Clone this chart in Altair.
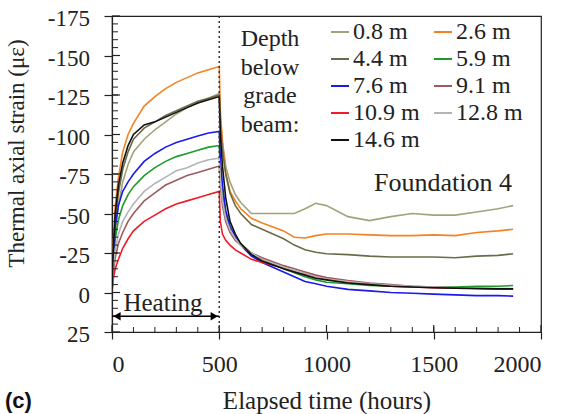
import altair as alt
import pandas as pd

# ---------------- data ----------------
T = [0, 5, 15, 30, 50, 75, 100, 150, 200, 250, 300, 350, 400, 450, 500,
     505, 515, 530, 550, 575, 600, 650, 700, 800, 850, 900, 950, 1000,
     1100, 1200, 1300, 1400, 1500, 1600, 1700, 1800, 1870]

depths = ["0.8 m", "2.6 m", "4.4 m", "5.9 m", "7.6 m", "9.1 m", "10.9 m", "12.8 m", "14.6 m"]
colors = ["#a3a37a", "#f5821f", "#6b6b4a", "#1e9a2a", "#1a1aee", "#a05a5e", "#ee1c24", "#b4b4b4", "#111111"]

s08 = [0, -18, -38, -55, -70, -81, -89, -97, -103, -108, -113, -117, -120, -123, -126,
       -110, -95, -80, -70, -62, -57, -50, -50, -50, -50, -53, -56.5, -55,
       -48, -45.5, -48, -50, -49, -49, -51, -53, -55]
s26 = [0, -28, -55, -73, -89, -100, -107, -118, -124, -129, -133, -136, -139, -141, -143,
       -115, -95, -76, -64, -58, -53, -47, -44, -39, -35, -34.5, -36, -37,
       -37, -36.5, -36, -36, -36.5, -36, -38, -39, -40]
s44 = [0, -22, -45, -63, -78, -89, -97, -104, -108, -112, -115, -118, -121, -123, -125,
       -108, -90, -75, -63, -55, -50, -43, -40, -34, -30, -27, -25.5, -24.5,
       -24, -23, -22.5, -22.5, -22.5, -22, -23, -23.5, -24.5]
s59 = [0, -18, -34, -46, -55, -62, -67, -74, -79, -83, -86, -88, -90, -92, -93,
       -78, -63, -50, -41, -35, -31, -25, -21, -15, -12.5, -10, -8, -6.5,
       -5.5, -4.5, -4, -3.8, -3.5, -3.5, -4, -4, -4.4]
s76 = [0, -22, -42, -55, -64, -70, -75, -83, -88, -92, -95, -97, -99, -101, -102,
       -85, -68, -52, -42, -35, -30, -23, -19, -13, -10, -7, -5.5, -4,
       -2, -1, 0, 0.5, 1, 1.5, 2, 2, 2.3]
s91 = [0, -12, -22, -31, -38, -45, -50, -58, -63, -68, -71, -74, -76, -78, -80,
       -68, -55, -45, -38, -33, -30, -25, -22, -17, -15, -13, -11, -9.5,
       -7.5, -6, -5, -4, -3.5, -3, -2.5, -2.3, -2.3]
s109 = [0, -8, -15, -21, -28, -34, -39, -45, -49, -53, -56, -58, -60, -62, -64,
        -45, -37, -33, -30, -27, -25, -21, -19, -15.5, -13.5, -12, -10, -8.5,
        -6.5, -5, -4, -3.5, -3, -2.8, -2.5, -2.3, -2.3]
s128 = [0, -15, -27, -37, -45, -51, -56, -64, -69, -73, -77, -79, -82, -84, -85,
        -72, -58, -47, -40, -34, -30, -25, -21, -16, -14, -12, -10, -8.5,
        -7, -5.5, -4.5, -4, -3.5, -3, -2.8, -2.5, -2.5]
s146 = [0, -25, -50, -68, -82, -93, -100, -106, -108, -111, -114, -117, -120, -122, -124,
        -100, -80, -60, -45, -37, -31, -24, -20, -15, -13, -11, -9, -8,
        -6, -5, -4, -3.5, -3, -2.8, -2.5, -2.3, -2.3]

series = [s08, s26, s44, s59, s76, s91, s109, s128, s146]

# legend is laid out column by column: this order reads row by row as in the figure
legend_order = ["0.8 m", "4.4 m", "7.6 m", "10.9 m", "14.6 m", "2.6 m", "5.9 m", "9.1 m", "12.8 m"]

y_major = [-175, -150, -125, -100, -75, -50, -25, 0, 25]
y_labels = [str(v) for v in y_major]
x_major = [0, 500, 1000, 1500, 2000]
y_minor = list(range(-170, 25, 5))
x_minor = list(range(100, 2000, 100))

rows = []
for d, vals in zip(depths, series):
    for t, v in zip(T, vals):
        rows.append({"time": t, "strain": v, "depth": d})
df = pd.DataFrame(rows)

W, H = 429, 316
FONT = "Liberation Serif"

xs = alt.Scale(domain=[0, 2000], nice=False)
ys = alt.Scale(domain=[-175, 25], reverse=True, nice=False)
color_map = dict(zip(depths, colors))

XAX = alt.Axis(values=x_major, title="Elapsed time (hours)", grid=False,
               tickSize=7, labelPadding=13, titlePadding=12, labelOverlap=False,
               labelFontSize=24, titleFontSize=25, labelExpr="'' + datum.value")
YAX = alt.Axis(values=y_major, title="Thermal axial strain (\u03bc\u03b5)", grid=False,
               tickSize=8, labels=False,
               titleFontSize=23, titleX=-84, titleY=137)

lines = alt.Chart(df).mark_line(strokeWidth=1.6, clip=True).encode(
    x=alt.X("time:Q", scale=xs, axis=XAX),
    y=alt.Y("strain:Q", scale=ys, axis=YAX),
    color=alt.Color("depth:N", sort=legend_order,
                    scale=alt.Scale(domain=legend_order, range=[color_map[d] for d in legend_order]),
                    legend=alt.Legend(title=None, orient="none", legendX=216, legendY=4,
                                      columns=2, symbolType="stroke", symbolSize=324,
                                      symbolStrokeWidth=2, labelFont=FONT, labelFontSize=24,
                                      labelColor="#222", labelOffset=1, columnPadding=10,
                                      rowPadding=3, padding=0)),
    detail="depth:N",
)

# y tick labels as text placed through the y scale
ylab = alt.Chart(pd.DataFrame({"v": y_major, "lab": y_labels})).mark_text(
    font=FONT, fontSize=23, color="#222", align="right", baseline="middle", dy=3).encode(
    y=alt.Y("v:Q", scale=ys, axis=YAX), x=alt.value(-22), text="lab:N")

# inside ticks (minor and major) drawn through the scales
ymin_df = pd.DataFrame({"v": y_minor})
xmin_df = pd.DataFrame({"v": x_minor})
ymaj_df = pd.DataFrame({"v": y_major})
xmaj_df = pd.DataFrame({"v": x_major})
ytick = alt.Chart(ymin_df).mark_rule(color="#222", strokeWidth=1).encode(
    y=alt.Y("v:Q", scale=ys, axis=YAX), x=alt.value(0), x2=alt.value(6))
xtick = alt.Chart(xmin_df).mark_rule(color="#222", strokeWidth=1).encode(
    x=alt.X("v:Q", scale=xs, axis=XAX), y=alt.value(H), y2=alt.value(H - 5))
ytickM = alt.Chart(ymaj_df).mark_rule(color="#222", strokeWidth=1.2).encode(
    y=alt.Y("v:Q", scale=ys, axis=YAX), x=alt.value(0), x2=alt.value(8))
xtickM = alt.Chart(xmaj_df).mark_rule(color="#222", strokeWidth=1.2).encode(
    x=alt.X("v:Q", scale=xs, axis=XAX), y=alt.value(H), y2=alt.value(H - 7))

dotted = alt.Chart(pd.DataFrame({"t": [500]})).mark_rule(
    color="#333", strokeWidth=1.5, strokeDash=[2, 3]).encode(
    x=alt.X("t:Q", scale=xs, axis=XAX), y=alt.value(0), y2=alt.value(H))

arrow_df = pd.DataFrame({"a": [0], "b": [500], "y": [15]})
arrow = alt.Chart(arrow_df).mark_rule(color="black", strokeWidth=1.5).encode(
    x=alt.X("a:Q", scale=xs, axis=XAX), x2="b:Q", y=alt.Y("y:Q", scale=ys, axis=YAX))
headL = alt.Chart(arrow_df).mark_point(shape="triangle-left", filled=True, color="black",
                                        size=70, xOffset=5, opacity=1).encode(
    x=alt.X("a:Q", scale=xs, axis=XAX), y=alt.Y("y:Q", scale=ys, axis=YAX))
headR = alt.Chart(arrow_df).mark_point(shape="triangle-right", filled=True, color="black",
                                        size=70, xOffset=-5, opacity=1).encode(
    x=alt.X("b:Q", scale=xs, axis=XAX), y=alt.Y("y:Q", scale=ys, axis=YAX))

heating = alt.Chart(pd.DataFrame({"t": ["Heating"]})).mark_text(
    font=FONT, fontSize=25, color="#222", align="center", baseline="middle").encode(
    text="t:N", x=alt.value(51), y=alt.value(287))

depth_txt = alt.Chart(pd.DataFrame({"t": ["Depth\nbelow\ngrade\nbeam:"]})).mark_text(
    font=FONT, fontSize=24, color="#222", align="center", baseline="top",
    lineBreak="\n", lineHeight=28.5).encode(
    text="t:N", x=alt.value(158), y=alt.value(11))

found = alt.Chart(pd.DataFrame({"t": ["Foundation 4"]})).mark_text(
    font=FONT, fontSize=26, color="#222", align="right", baseline="middle").encode(
    text="t:N", x=alt.value(400), y=alt.value(167))

clabel = alt.Chart(pd.DataFrame({"t": ["(c)"]})).mark_text(
    font="Liberation Sans", fontSize=22, fontWeight="bold", color="#111",
    align="left", baseline="middle").encode(
    text="t:N", x=alt.value(-107), y=alt.value(385))

chart = alt.layer(lines, ylab, ytick, xtick, ytickM, xtickM, dotted, arrow, headL, headR,
                  heating, depth_txt, found, clabel).properties(
    width=W, height=H,
    background="white",
    autosize=alt.AutoSizeParams(type="none"),
    padding={"left": 112, "top": 16, "right": 25, "bottom": 82},
).configure_view(stroke="#222", strokeWidth=1.2).configure_axis(
    labelFont=FONT, titleFont=FONT,
    labelColor="#222", titleColor="#222", titleFontWeight="normal",
    domainColor="#222", tickColor="#222", domainWidth=1.2, tickWidth=1.2,
)

chart.save("out.html", embed_options={"renderer": "svg", "actions": False})
